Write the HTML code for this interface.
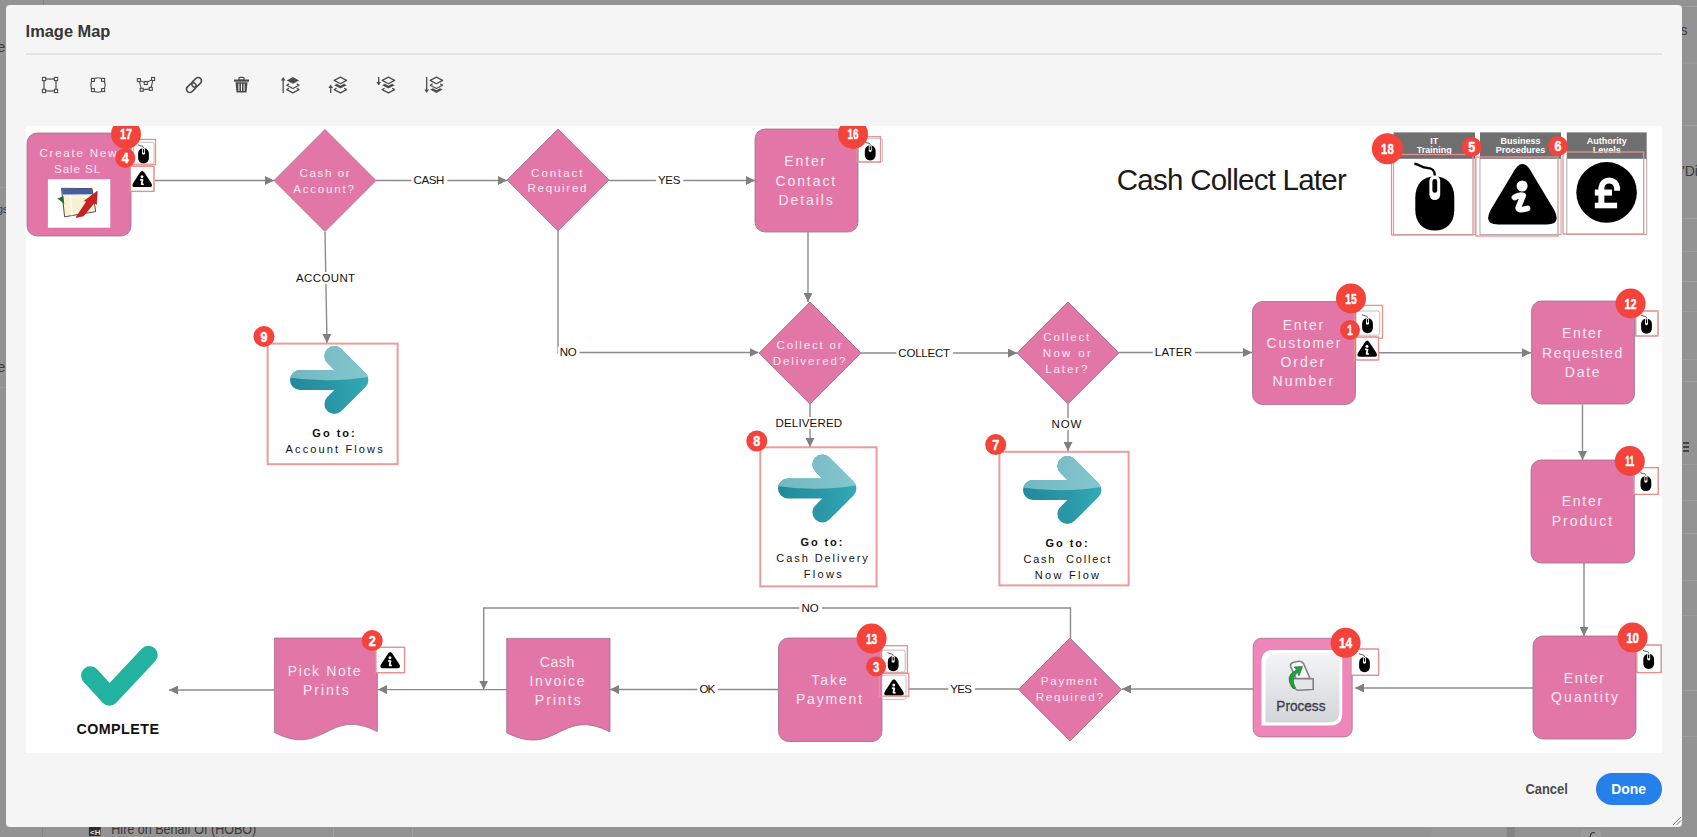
<!DOCTYPE html>
<html><head><meta charset="utf-8">
<style>
html,body{margin:0;padding:0;width:1697px;height:837px;overflow:hidden;background:#939393;font-family:"Liberation Sans",sans-serif;}
#modal{position:absolute;left:6px;top:5px;width:1676px;height:821.8px;background:#f5f5f5;border-radius:4px;}
svg{position:absolute;left:0;top:0;}
.lbl{font-size:11.5px;fill:#111;text-anchor:middle;}
.nt{font-size:14px;fill:#fde8f2;text-anchor:middle;}
.nd{font-size:11.6px;fill:#fde8f2;text-anchor:middle;}
.bd{fill:#fff;font-weight:bold;text-anchor:middle;}
.gb{font-size:11px;font-weight:bold;fill:#111;text-anchor:middle;}
.gt{font-size:11px;fill:#111;text-anchor:middle;}
.cmp{font-size:14.3px;font-weight:bold;fill:#111;text-anchor:middle;}
.ttl{font-size:29.5px;fill:#1a1a1a;text-anchor:middle;}
.lg{font-size:9px;font-weight:bold;fill:#fff;text-anchor:middle;}
</style></head>
<body>
<svg width="1697" height="837" style="position:absolute;left:0;top:0">
<rect x="1431.5" y="826" width="75" height="11" fill="#989898"/>
<rect x="1506.8" y="826" width="7.8" height="11" fill="#858585"/>
<rect x="1580" y="829" width="22" height="10" rx="3" fill="#9a9a9a" stroke="#8a8a8a" stroke-width="0.5"/>
<path d="M1590,837 Q1591,831 1595,833" fill="none" stroke="#333" stroke-width="1.2"/>
<rect x="42" y="826" width="1" height="11" fill="#858585"/>
<rect x="333" y="826" width="1" height="11" fill="#a0a0a0"/>
<rect x="412" y="826" width="1" height="11" fill="#a0a0a0"/>
<rect x="88.9" y="826" width="11.8" height="10" fill="#2e2e2e"/>
<text x="90" y="834.5" font-size="8" font-weight="bold" fill="#ddd">&lt;H</text>
<text x="111.3" y="834" font-size="14.5" fill="#383838" textLength="145" lengthAdjust="spacingAndGlyphs">Hire on Behalf Of (HOBO)</text>
<text x="-2.5" y="52" font-size="14" fill="#3c3c3c">e</text>
<text x="-3" y="213" font-size="11" fill="#3c3c3c">gs</text>
<text x="-2.5" y="371.5" font-size="14" fill="#3c3c3c">e</text>
<rect x="0" y="187" width="6" height="1" fill="#9c9c9c"/>
<rect x="0" y="387" width="6" height="1" fill="#9c9c9c"/>
<rect x="43" y="0" width="1" height="5" fill="#858585"/>
<g fill="#9e9e9e">
<rect x="1682" y="6" width="15" height="1"/><rect x="1682" y="62.5" width="15" height="1"/><rect x="1682" y="125" width="15" height="1"/>
<rect x="1682" y="218" width="15" height="1"/><rect x="1682" y="251" width="15" height="1"/><rect x="1682" y="281" width="15" height="1"/>
<rect x="1682" y="311" width="15" height="1"/><rect x="1682" y="359" width="15" height="1"/><rect x="1682" y="381" width="15" height="1"/>
<rect x="1682" y="464" width="15" height="1"/><rect x="1682" y="500" width="15" height="1"/><rect x="1682" y="533" width="15" height="1"/>
<rect x="1682" y="580" width="15" height="1"/><rect x="1682" y="615" width="15" height="1"/><rect x="1682" y="690" width="15" height="1"/><rect x="1682" y="736" width="15" height="1"/>
</g>
<text x="1680.5" y="35" font-size="14" fill="#3c3c3c">s</text>
<text x="1682" y="176" font-size="14" fill="#3c3c3c">'Di</text>
<path d="M1683,443 H1689 M1683,447 H1689 M1683,451 H1689" stroke="#2a2a2a" stroke-width="1.5"/>
</svg>
<div id="modal"></div>
<svg width="1697" height="837" viewBox="0 0 1697 837" font-family="Liberation Sans, sans-serif">
<defs>
<marker id="ah" viewBox="0 0 9 9" refX="9" refY="4.5" markerWidth="9" markerHeight="9" markerUnits="userSpaceOnUse" orient="auto">
  <path d="M0,0 L9,4.5 L0,9 z" fill="#7f7f7f"/>
</marker>
<clipPath id="cv"><rect x="26" y="126" width="1636" height="627"/></clipPath>
<linearGradient id="pg" x1="0" y1="0" x2="0" y2="1"><stop offset="0" stop-color="#f3f4f6"/><stop offset="1" stop-color="#d3d5d8"/></linearGradient>
<symbol id="mouse" overflow="visible">
  <path d="M-6.5,-1 C-6.5,-5.6 -3.8,-8 0,-8 C3.8,-8 6.5,-5.6 6.5,-1 V3.2 C6.5,7.4 3.8,10 0,10 C-3.8,10 -6.5,7.4 -6.5,3.2 Z" fill="#000"/>
  <rect x="-1.8" y="-8.4" width="3.6" height="8.2" rx="1.8" fill="#fff"/>
  <rect x="-0.8" y="-7.2" width="1.6" height="4.6" rx="0.8" fill="#000"/>
  <path d="M0,-8.4 C0,-10.3 -1,-10.8 -2.6,-10.9 C-4.6,-11 -5,-12.1 -6.8,-12.3" fill="none" stroke="#000" stroke-width="0.8"/>
</symbol>
<symbol id="info" overflow="visible">
  <path d="M-3,-5.2 Q0,-10.4 3,-5.2 L9.4,4.2 Q11.6,8 7.2,8 H-7.2 Q-11.6,8 -9.4,4.2 Z" fill="#000"/>
  <circle cx="-0.2" cy="-2.2" r="1.5" fill="#fff"/>
  <path d="M-1.5,0.9 L0.3,1.1 L-0.6,5.2 L0.9,5.3" fill="none" stroke="#fff" stroke-width="1.8" stroke-linecap="round" stroke-linejoin="round"/>
</symbol>
<linearGradient id="ag" gradientUnits="userSpaceOnUse" x1="0" y1="0" x2="78" y2="0"><stop offset="0" stop-color="#22899a"/><stop offset="0.6" stop-color="#2a99a7"/><stop offset="1" stop-color="#34a9b6"/></linearGradient>
<linearGradient id="agl" gradientUnits="userSpaceOnUse" x1="0" y1="0" x2="78" y2="0"><stop offset="0" stop-color="#73b7c1"/><stop offset="1" stop-color="#84c6ce"/></linearGradient>
<symbol id="garrow" overflow="visible">
  <path d="M10,34 H68.4 M44.4,10 L68.4,34 L44.4,58" fill="none" stroke="url(#ag)" stroke-width="20" stroke-linecap="round" stroke-linejoin="round"/>
  <clipPath id="gtop"><path d="M-5,-5 H85 V30 Q39,38 -5,31 Z"/></clipPath>
  <path d="M10,34 H68.4 M44.4,10 L68.4,34 L44.4,58" fill="none" stroke="url(#agl)" stroke-width="20" stroke-linecap="round" stroke-linejoin="round" clip-path="url(#gtop)"/>
</symbol>
</defs>
<text x="68" y="36.8" textLength="84.8" lengthAdjust="spacingAndGlyphs" font-size="17" font-weight="bold" fill="#363636" text-anchor="middle">Image Map</text>
<rect x="26" y="53" width="1636" height="2" fill="#e3e3e3"/>
<g transform="translate(50,85)"><rect x="-6" y="-6" width="12" height="12" fill="none" stroke="#4b4b4b" stroke-width="1.2"/><rect x="-7.60" y="-7.60" width="3.2" height="3.2" fill="#f5f5f5" stroke="#4b4b4b" stroke-width="1.1"/><rect x="-7.60" y="4.40" width="3.2" height="3.2" fill="#f5f5f5" stroke="#4b4b4b" stroke-width="1.1"/><rect x="4.40" y="-7.60" width="3.2" height="3.2" fill="#f5f5f5" stroke="#4b4b4b" stroke-width="1.1"/><rect x="4.40" y="4.40" width="3.2" height="3.2" fill="#f5f5f5" stroke="#4b4b4b" stroke-width="1.1"/></g>
<g transform="translate(98,85)"><circle r="7.2" fill="none" stroke="#4b4b4b" stroke-width="1.1"/><rect x="-6.60" y="-6.60" width="3" height="3" fill="#f5f5f5" stroke="#4b4b4b" stroke-width="1.1"/><rect x="-6.60" y="3.60" width="3" height="3" fill="#f5f5f5" stroke="#4b4b4b" stroke-width="1.1"/><rect x="3.60" y="-6.60" width="3" height="3" fill="#f5f5f5" stroke="#4b4b4b" stroke-width="1.1"/><rect x="3.60" y="3.60" width="3" height="3" fill="#f5f5f5" stroke="#4b4b4b" stroke-width="1.1"/></g>
<g transform="translate(146,85)"><path d="M-7.1,-4.9 L-4.3,4.8 L4.8,3.9 L7.1,-6 L-0.2,-2 Z" fill="none" stroke="#4b4b4b" stroke-width="1.1"/><rect x="-8.60" y="-6.40" width="3" height="3" fill="#f5f5f5" stroke="#4b4b4b" stroke-width="1.1"/><rect x="-5.80" y="3.30" width="3" height="3" fill="#f5f5f5" stroke="#4b4b4b" stroke-width="1.1"/><rect x="3.30" y="2.40" width="3" height="3" fill="#f5f5f5" stroke="#4b4b4b" stroke-width="1.1"/><rect x="5.60" y="-7.50" width="3" height="3" fill="#f5f5f5" stroke="#4b4b4b" stroke-width="1.1"/><rect x="-1.70" y="-3.50" width="3" height="3" fill="#f5f5f5" stroke="#4b4b4b" stroke-width="1.1"/></g>
<g transform="translate(194,85) rotate(-45)"><rect x="-9.2" y="-3.3" width="11" height="6.6" rx="3.3" fill="none" stroke="#4b4b4b" stroke-width="1.7"/><rect x="-1.8" y="-3.3" width="11" height="6.6" rx="3.3" fill="none" stroke="#4b4b4b" stroke-width="1.7"/></g>
<g transform="translate(241.5,85)"><rect x="-7.5" y="-5.5" width="15" height="2.2" fill="#4b4b4b"/><rect x="-2.6" y="-7.6" width="5.2" height="2.6" rx="1" fill="none" stroke="#4b4b4b" stroke-width="1.2"/><path d="M-6,-2.8 L-5,7.6 H5 L6,-2.8 Z" fill="#4b4b4b"/><path d="M-2.6,-1.3 V6 M0,-1.3 V6 M2.6,-1.3 V6" stroke="#f5f5f5" stroke-width="1"/></g>
<g transform="translate(290.5,85)"><g transform="translate(2.4,0)"><path d="M0,-7.8999999999999995 L6.2,-4.6 L0,-1.2999999999999998 L-6.2,-4.6 Z" fill="#4b4b4b"/><path d="M-3.8,-1.1 L-6.2,0.2 L0,3.5 L6.2,0.2 L3.8,-1.1" fill="none" stroke="#4b4b4b" stroke-width="1.2" stroke-linejoin="round"/><path d="M-3.8,3.3 L-6.2,4.6 L0,7.8999999999999995 L6.2,4.6 L3.8,3.3" fill="none" stroke="#4b4b4b" stroke-width="1.2" stroke-linejoin="round"/></g><path d="M-7.3,8 V-5.5" stroke="#4b4b4b" stroke-width="1.3"/><path d="M-9.6,-4.5 L-7.3,-8 L-5,-4.5 Z" fill="#4b4b4b"/></g>
<g transform="translate(338,85)"><g transform="translate(2.4,0)"><path d="M0,-7.8999999999999995 L6.2,-4.6 L0,-1.2999999999999998 L-6.2,-4.6 Z" fill="none" stroke="#4b4b4b" stroke-width="1.2" stroke-linejoin="round"/><path d="M-6.2,0.2 L0,3.5 L6.2,0.2 L3.6,-1.2 L0,0.8 L-3.6,-1.2 Z" fill="#4b4b4b"/><path d="M-3.8,3.3 L-6.2,4.6 L0,7.8999999999999995 L6.2,4.6 L3.8,3.3" fill="none" stroke="#4b4b4b" stroke-width="1.2" stroke-linejoin="round"/></g><path d="M-7.3,8 V2" stroke="#4b4b4b" stroke-width="1.3"/><path d="M-9.6,3 L-7.3,-0.5 L-5,3 Z" fill="#4b4b4b"/></g>
<g transform="translate(386,85)"><g transform="translate(2.4,0)"><path d="M0,-7.8999999999999995 L6.2,-4.6 L0,-1.2999999999999998 L-6.2,-4.6 Z" fill="none" stroke="#4b4b4b" stroke-width="1.2" stroke-linejoin="round"/><path d="M-6.2,0.2 L0,3.5 L6.2,0.2 L3.6,-1.2 L0,0.8 L-3.6,-1.2 Z" fill="#4b4b4b"/><path d="M-3.8,3.3 L-6.2,4.6 L0,7.8999999999999995 L6.2,4.6 L3.8,3.3" fill="none" stroke="#4b4b4b" stroke-width="1.2" stroke-linejoin="round"/></g><path d="M-7.3,-8 V-2" stroke="#4b4b4b" stroke-width="1.3"/><path d="M-9.6,-3 L-7.3,0.5 L-5,-3 Z" fill="#4b4b4b"/></g>
<g transform="translate(434,85)"><g transform="translate(2.4,0)"><path d="M0,-7.8999999999999995 L6.2,-4.6 L0,-1.2999999999999998 L-6.2,-4.6 Z" fill="none" stroke="#4b4b4b" stroke-width="1.2" stroke-linejoin="round"/><path d="M-3.8,-1.1 L-6.2,0.2 L0,3.5 L6.2,0.2 L3.8,-1.1" fill="none" stroke="#4b4b4b" stroke-width="1.2" stroke-linejoin="round"/><path d="M-6.2,4.6 L0,7.8999999999999995 L6.2,4.6 L3.6,3.1999999999999997 L0,5.199999999999999 L-3.6,3.1999999999999997 Z" fill="#4b4b4b"/></g><path d="M-7.3,-8 V5.5" stroke="#4b4b4b" stroke-width="1.3"/><path d="M-9.6,4.5 L-7.3,8 L-5,4.5 Z" fill="#4b4b4b"/></g>
<rect x="26" y="126" width="1636" height="627" fill="#ffffff"/>
<path d="M155,180.5 H274" fill="none" stroke="#8b8b8b" stroke-width="1.4" marker-end="url(#ah)"/>
<path d="M376,180.5 H507" fill="none" stroke="#8b8b8b" stroke-width="1.4" marker-end="url(#ah)"/>
<path d="M609,180.5 H755" fill="none" stroke="#8b8b8b" stroke-width="1.4" marker-end="url(#ah)"/>
<path d="M325,232 L327,343" fill="none" stroke="#8b8b8b" stroke-width="1.4" marker-end="url(#ah)"/>
<path d="M558,231 V352.5 H758.5" fill="none" stroke="#8b8b8b" stroke-width="1.4" marker-end="url(#ah)"/>
<path d="M808,232 V302" fill="none" stroke="#8b8b8b" stroke-width="1.4" marker-end="url(#ah)"/>
<path d="M861,353 H1017" fill="none" stroke="#8b8b8b" stroke-width="1.4" marker-end="url(#ah)"/>
<path d="M1119,352.5 H1252" fill="none" stroke="#8b8b8b" stroke-width="1.4" marker-end="url(#ah)"/>
<path d="M810,404 V447" fill="none" stroke="#8b8b8b" stroke-width="1.4" marker-end="url(#ah)"/>
<path d="M1068,404 V451" fill="none" stroke="#8b8b8b" stroke-width="1.4" marker-end="url(#ah)"/>
<path d="M1378,352.8 H1531" fill="none" stroke="#8b8b8b" stroke-width="1.4" marker-end="url(#ah)"/>
<path d="M1582.5,404.5 V460" fill="none" stroke="#8b8b8b" stroke-width="1.4" marker-end="url(#ah)"/>
<path d="M1584,563 V636" fill="none" stroke="#8b8b8b" stroke-width="1.4" marker-end="url(#ah)"/>
<path d="M1533,688 H1355" fill="none" stroke="#8b8b8b" stroke-width="1.4" marker-end="url(#ah)"/>
<path d="M1253,689 H1122" fill="none" stroke="#8b8b8b" stroke-width="1.4" marker-end="url(#ah)"/>
<path d="M1070.5,638 V608 H483.7 V689.6" fill="none" stroke="#8b8b8b" stroke-width="1.4" marker-end="url(#ah)"/>
<path d="M1019,689 H908" fill="none" stroke="#8b8b8b" stroke-width="1.4"/>
<path d="M778,689.5 H610" fill="none" stroke="#8b8b8b" stroke-width="1.4" marker-end="url(#ah)"/>
<path d="M507,689.6 H378" fill="none" stroke="#8b8b8b" stroke-width="1.4" marker-end="url(#ah)"/>
<path d="M274,690 H169" fill="none" stroke="#8b8b8b" stroke-width="1.4" marker-end="url(#ah)"/>
<rect x="411.5" y="174.4" width="35.8" height="12" fill="#fff"/>
<text x="428.9" y="183.8" textLength="30.8" lengthAdjust="spacing" class="lbl">CASH</text>
<rect x="656.1" y="174.4" width="27.2" height="12" fill="#fff"/>
<text x="669.2" y="184.2" textLength="22.2" lengthAdjust="spacing" class="lbl">YES</text>
<rect x="294.1" y="272.0" width="64.0" height="12" fill="#fff"/>
<text x="325.6" y="282" textLength="59.0" lengthAdjust="spacing" class="lbl">ACCOUNT</text>
<rect x="557.8" y="346.8" width="21.8" height="12" fill="#fff"/>
<text x="568.2" y="355.8" textLength="16.8" lengthAdjust="spacing" class="lbl">NO</text>
<rect x="896.4" y="347.0" width="56.7" height="12" fill="#fff"/>
<text x="924.2" y="357.1" textLength="51.7" lengthAdjust="spacing" class="lbl">COLLECT</text>
<rect x="1152.7" y="346.5" width="42.4" height="12" fill="#fff"/>
<text x="1173.4" y="356" textLength="37.4" lengthAdjust="spacing" class="lbl">LATER</text>
<rect x="773.5" y="417.0" width="71.5" height="12" fill="#fff"/>
<text x="808.8" y="426.8" textLength="66.5" lengthAdjust="spacing" class="lbl">DELIVERED</text>
<rect x="1049.5" y="418.0" width="34.9" height="12" fill="#fff"/>
<text x="1066.5" y="427.9" textLength="29.9" lengthAdjust="spacing" class="lbl">NOW</text>
<rect x="799.4" y="602.2" width="22.4" height="12" fill="#fff"/>
<text x="810.1" y="611.8" textLength="17.4" lengthAdjust="spacing" class="lbl">NO</text>
<rect x="948.3" y="683.0" width="26.6" height="12" fill="#fff"/>
<text x="961.1" y="692.7" textLength="21.6" lengthAdjust="spacing" class="lbl">YES</text>
<rect x="697.5" y="683.6" width="20.6" height="12" fill="#fff"/>
<text x="707.3" y="692.7" textLength="15.6" lengthAdjust="spacing" class="lbl">OK</text>
<rect x="27" y="133" width="104" height="103" rx="10" fill="#e277a7" stroke="#a07088" stroke-width="0.8"/>
<rect x="755" y="129" width="103" height="103" rx="10" fill="#e277a7" stroke="#a07088" stroke-width="0.8"/>
<rect x="1252.5" y="301.5" width="103" height="103" rx="10" fill="#e277a7" stroke="#a07088" stroke-width="0.8"/>
<rect x="1531.5" y="301" width="103" height="103" rx="10" fill="#e277a7" stroke="#a07088" stroke-width="0.8"/>
<rect x="1531" y="460" width="103.5" height="103" rx="10" fill="#e277a7" stroke="#a07088" stroke-width="0.8"/>
<rect x="1533" y="636" width="103" height="103" rx="10" fill="#e277a7" stroke="#a07088" stroke-width="0.8"/>
<rect x="778.5" y="638" width="103.5" height="103.5" rx="10" fill="#e277a7" stroke="#a07088" stroke-width="0.8"/>
<path d="M274,180.5 L325,129.5 L376,180.5 L325,231.5 Z" fill="#e277a7" stroke="#a07088" stroke-width="0.8"/>
<path d="M507,180 L558,129 L609,180 L558,231 Z" fill="#e277a7" stroke="#a07088" stroke-width="0.8"/>
<path d="M759,353 L810,302 L861,353 L810,404 Z" fill="#e277a7" stroke="#a07088" stroke-width="0.8"/>
<path d="M1017,353 L1068,302 L1119,353 L1068,404 Z" fill="#e277a7" stroke="#a07088" stroke-width="0.8"/>
<path d="M1018.5,689.5 L1070,638.0 L1121.5,689.5 L1070,741.0 Z" fill="#e277a7" stroke="#a07088" stroke-width="0.8"/>
<path d="M274.4,638.1 H377.4 V731.6 C328.0,706.1 324.9,758.1 274.4,732.5 Z" fill="#e277a7" stroke="#a07088" stroke-width="0.8"/>
<path d="M506.7,638.4 H610 V731.9 C560.4,706.4 557.3,758.4 506.7,732.8 Z" fill="#e277a7" stroke="#a07088" stroke-width="0.8"/>
<rect x="1253.2" y="638.3" width="99" height="98.6" rx="8" fill="#ee86b9" stroke="#a07088" stroke-width="0.8"/>
<path d="M1273.5,650 H1342.3 V713.5 Q1342.3,725.5 1330.3,725.5 H1261.5 V662 Q1261.5,650 1273.5,650 Z" fill="#ffffff"/>
<path d="M1277,653.5 H1339.5 V711.5 Q1339.5,722.5 1328.5,722.5 H1265.5 V665 Q1265.5,653.5 1277,653.5 Z" fill="url(#pg)"/>
<path d="M1290.6,666.5 Q1290,663.5 1293,662.5 L1298.7,661.3 Q1302,661 1303.5,663.5 L1310,678.5 H1296 Z" fill="#fafafa" stroke="#808080" stroke-width="1.6" stroke-linejoin="round"/>
<path d="M1291.5,678.7 H1313.2 V689.5 L1297.6,690.3 L1291.5,686.2 Z" fill="#e6e6e6" stroke="#808080" stroke-width="1.6" stroke-linejoin="round"/>
<path d="M1293,688.5 Q1283.5,676 1296.5,670 L1294,667 L1302.5,666.5 L1299,676 L1297.8,672.8 Q1290,677.5 1295.5,688 Z" fill="#22a040" stroke="#126a26" stroke-width="0.6"/>
<text x="1300.9" y="711" textLength="49.1" lengthAdjust="spacingAndGlyphs" font-size="15.5" fill="#3d3d4d" stroke="#3d3d4d" stroke-width="0.35" text-anchor="middle">Process</text>
<rect x="47.9" y="179.2" width="62.4" height="48.5" fill="#fff"/>
<path d="M61.5,188.3 L92,188.6 L95.7,211.6 L64.6,216.8 Z" fill="#fbf1d0" stroke="#3a3a3a" stroke-width="0.9"/>
<path d="M62,188.8 L91.8,189 L92.6,194.2 L62.6,194.4 Z" fill="#3e5fae"/>
<path d="M70.5,195 L72,215.5 M71,197.5 L93,197" stroke="#ffffff" stroke-width="1.2" fill="none"/>
<path d="M57.5,198.5 L63.4,196 L64.2,204 Z" fill="#1d6b35"/>
<path d="M76,217.5 L86.5,201.5 L84.5,200.8 L97.2,191.2 L96.6,204.5 L94.3,202.8 L83.5,216 Z" fill="#cf1f1f" stroke="#6a1010" stroke-width="0.5"/>
<text x="77.9" y="157.1" textLength="77.0" lengthAdjust="spacing" class="nd" >Create New</text>
<text x="77.1" y="173.1" textLength="46.0" lengthAdjust="spacing" class="nd" >Sale SL</text>
<text x="324.6" y="177.1" textLength="50.1" lengthAdjust="spacing" class="nd" >Cash or</text>
<text x="323.6" y="193" textLength="60.5" lengthAdjust="spacing" class="nd" >Account?</text>
<text x="556.8" y="176.9" textLength="51.4" lengthAdjust="spacing" class="nd" >Contact</text>
<text x="557.0" y="192.4" textLength="59.1" lengthAdjust="spacing" class="nd" >Required</text>
<text x="809.1" y="348.7" textLength="65.2" lengthAdjust="spacing" class="nd" >Collect or</text>
<text x="809.0" y="365.2" textLength="72.7" lengthAdjust="spacing" class="nd" >Delivered?</text>
<text x="1066.3" y="340.7" textLength="45.9" lengthAdjust="spacing" class="nd" >Collect</text>
<text x="1066.8" y="356.8" textLength="48.1" lengthAdjust="spacing" class="nd" >Now or</text>
<text x="1066.3" y="373.2" textLength="42.1" lengthAdjust="spacing" class="nd" >Later?</text>
<text x="1068.9" y="684.7" textLength="56.3" lengthAdjust="spacing" class="nd" >Payment</text>
<text x="1069.3" y="700.8" textLength="67.3" lengthAdjust="spacing" class="nd" >Required?</text>
<text x="804.8" y="166" textLength="40.9" lengthAdjust="spacing" class="nt" >Enter</text>
<text x="805.3" y="185.5" textLength="59.8" lengthAdjust="spacing" class="nt" >Contact</text>
<text x="805.6" y="204.7" textLength="54.3" lengthAdjust="spacing" class="nt" >Details</text>
<text x="1303.0" y="329.5" textLength="40.4" lengthAdjust="spacing" class="nt" >Enter</text>
<text x="1303.5" y="348.3" textLength="73.8" lengthAdjust="spacing" class="nt" >Customer</text>
<text x="1302.3" y="367" textLength="43.7" lengthAdjust="spacing" class="nt" >Order</text>
<text x="1302.8" y="385.8" textLength="60.7" lengthAdjust="spacing" class="nt" >Number</text>
<text x="1582.0" y="337.9" textLength="39.9" lengthAdjust="spacing" class="nt" >Enter</text>
<text x="1582.1" y="357.6" textLength="80.3" lengthAdjust="spacing" class="nt" >Requested</text>
<text x="1582.2" y="376.7" textLength="34.8" lengthAdjust="spacing" class="nt" >Date</text>
<text x="1581.9" y="506.2" textLength="40.3" lengthAdjust="spacing" class="nt" >Enter</text>
<text x="1581.9" y="525.9" textLength="60.3" lengthAdjust="spacing" class="nt" >Product</text>
<text x="1583.8" y="683" textLength="40.1" lengthAdjust="spacing" class="nt" >Enter</text>
<text x="1584.5" y="702" textLength="67.2" lengthAdjust="spacing" class="nt" >Quantity</text>
<text x="829.0" y="684.8" textLength="35.4" lengthAdjust="spacing" class="nt" >Take</text>
<text x="829.0" y="703.8" textLength="66.2" lengthAdjust="spacing" class="nt" >Payment</text>
<text x="557.1" y="667.2" textLength="34.6" lengthAdjust="spacing" class="nt" >Cash</text>
<text x="557.0" y="686" textLength="55.1" lengthAdjust="spacing" class="nt" >Invoice</text>
<text x="557.8" y="704.8" textLength="45.9" lengthAdjust="spacing" class="nt" >Prints</text>
<text x="324.2" y="675.9" textLength="72.9" lengthAdjust="spacing" class="nt" >Pick Note</text>
<text x="325.8" y="695" textLength="45.7" lengthAdjust="spacing" class="nt" >Prints</text>
<rect x="267.6" y="343.6" width="130.0" height="120.6" fill="none" stroke="#eb9c9c" stroke-width="2"/>
<use href="#garrow" transform="translate(290,346)"/>
<rect x="760.3" y="447.3" width="116.3" height="139.1" fill="none" stroke="#eb9c9c" stroke-width="2"/>
<use href="#garrow" transform="translate(778,454.5)"/>
<rect x="999.4" y="451.8" width="129.2" height="133.6" fill="none" stroke="#eb9c9c" stroke-width="2"/>
<use href="#garrow" transform="translate(1023,456)"/>
<text x="333.5" y="436.7" textLength="42.3" lengthAdjust="spacing" class="gb" >Go to:</text>
<text x="334.1" y="452.6" textLength="97.1" lengthAdjust="spacing" class="gt" >Account Flows</text>
<text x="821.4" y="545.7" textLength="42.0" lengthAdjust="spacing" class="gb" >Go to:</text>
<text x="822.1" y="561.8" textLength="91.5" lengthAdjust="spacing" class="gt" >Cash Delivery</text>
<text x="822.7" y="577.7" textLength="38.1" lengthAdjust="spacing" class="gt" >Flows</text>
<text x="1066.6" y="547" textLength="42.3" lengthAdjust="spacing" class="gb" >Go to:</text>
<text x="1066.9" y="562.9" textLength="87.0" lengthAdjust="spacing" class="gt" >Cash&#160; Collect</text>
<text x="1066.9" y="578.8" textLength="64.3" lengthAdjust="spacing" class="gt" >Now Flow</text>
<path d="M90.3,675.5 L109.5,696.5 L148.5,655" fill="none" stroke="#22b3a0" stroke-width="18.5" stroke-linecap="round" stroke-linejoin="round"/>
<text x="117.7" y="734.2" textLength="82.6" lengthAdjust="spacing" class="cmp" >COMPLETE</text>
<text x="1231.8" y="190.3" textLength="230.0" lengthAdjust="spacing" class="ttl" >Cash Collect Later</text>
<rect x="1393.6" y="158.5" width="81.4" height="76" fill="#fff" stroke="#a9a9a9" stroke-width="1"/>
<rect x="1393.6" y="132.4" width="81.4" height="26.1" fill="#6f6f6f"/>
<text x="1434.3" y="143.5" class="lg">IT</text>
<text x="1434.3" y="153.3" class="lg">Training</text>
<use href="#mouse" transform="translate(1434.8,200.6) scale(3)"/>
<rect x="1391.5" y="154.5" width="81.5" height="80.5" fill="none" stroke="#e98f8f" stroke-width="1.3"/>
<rect x="1480" y="158.5" width="81.0" height="76" fill="#fff" stroke="#a9a9a9" stroke-width="1"/>
<rect x="1480" y="132.4" width="81.0" height="26.1" fill="#6f6f6f"/>
<text x="1520.5" y="143.5" class="lg">Business</text>
<text x="1520.5" y="153.3" class="lg">Procedures</text>
<path d="M-3,-5.2 Q0,-10.4 3,-5.2 L9.4,4.2 Q11.6,8 7.2,8 H-7.2 Q-11.6,8 -9.4,4.2 Z" fill="#000" transform="translate(1522.4,193.9) scale(3.386,3.836)"/><circle cx="1522.1" cy="186" r="5.5" fill="#fff"/><path d="M1514.5,197.5 Q1519,194.5 1523.2,195.5 L1518.3,207.5 Q1517.5,211 1527.5,208.5" fill="none" stroke="#fff" stroke-width="5.8" stroke-linecap="round" stroke-linejoin="round"/>
<rect x="1475.8" y="157" width="82.2" height="79.0" fill="none" stroke="#e98f8f" stroke-width="1.3"/>
<rect x="1566.8" y="158.5" width="79.9" height="76" fill="#fff" stroke="#a9a9a9" stroke-width="1"/>
<rect x="1566.8" y="132.4" width="79.9" height="26.1" fill="#6f6f6f"/>
<text x="1606.8" y="143.5" class="lg">Authority</text>
<text x="1606.8" y="153.3" class="lg">Levels</text>
<circle cx="1606.6" cy="192.4" r="30.3" fill="#000"/><path d="M1601.35,203 V187.7 A7.9,7.9 0 0 1 1617.1,187.7 V190.8" fill="none" stroke="#fff" stroke-width="6"/><rect x="1594.8" y="189.5" width="17.2" height="6.1" fill="#fff"/><rect x="1594.8" y="202.7" width="22.3" height="5.6" fill="#fff"/>
<rect x="1563" y="152" width="80.7" height="82.0" fill="none" stroke="#e98f8f" stroke-width="1.3"/>
<rect x="133.6" y="142.4" width="20.4" height="21.6" rx="2" fill="#fff" stroke="#a5a5a5" stroke-width="0.7"/>
<use href="#mouse" transform="translate(143.5,155.0) scale(0.83)"/>
<rect x="131.3" y="139.4" width="24.2" height="25.4" fill="none" stroke="#e98f8f" stroke-width="1.3"/>
<rect x="130.3" y="166.3" width="23.7" height="25.1" rx="2" fill="#fff" stroke="#a5a5a5" stroke-width="0.7"/>
<use href="#info" transform="translate(142.2,178.9) scale(0.97,1.02)"/>
<rect x="130.3" y="166.3" width="23.7" height="25.1" fill="none" stroke="#e98f8f" stroke-width="1.3"/>
<rect x="858.5" y="138.7" width="24.1" height="23.3" rx="2" fill="#fff" stroke="#a5a5a5" stroke-width="0.7"/>
<use href="#mouse" transform="translate(870.2,152.2) scale(0.83)"/>
<rect x="857" y="136.7" width="23.5" height="25.3" fill="none" stroke="#e98f8f" stroke-width="1.3"/>
<rect x="1356" y="311" width="23.7" height="24.2" rx="2" fill="#fff" stroke="#a5a5a5" stroke-width="0.7"/>
<use href="#mouse" transform="translate(1367.5,324.9) scale(0.83)"/>
<rect x="1354.6" y="305.4" width="27.9" height="32.8" fill="none" stroke="#e98f8f" stroke-width="1.3"/>
<rect x="1356" y="337" width="22.5" height="23.0" rx="2" fill="#fff" stroke="#a5a5a5" stroke-width="0.7"/>
<use href="#info" transform="translate(1367.2,348.5) scale(0.97,1.02)"/>
<rect x="1354.6" y="337" width="23.9" height="23.0" fill="none" stroke="#e98f8f" stroke-width="1.3"/>
<rect x="1635.7" y="311" width="22.3" height="25.0" rx="2" fill="#fff" stroke="#a5a5a5" stroke-width="0.7"/>
<use href="#mouse" transform="translate(1646.5,325.3) scale(0.83)"/>
<rect x="1635.7" y="311" width="22.3" height="25.0" fill="none" stroke="#e98f8f" stroke-width="1.3"/>
<rect x="1634" y="467.6" width="24.3" height="26.8" rx="2" fill="#fff" stroke="#a5a5a5" stroke-width="0.7"/>
<use href="#mouse" transform="translate(1645.9,482.8) scale(0.83)"/>
<rect x="1634" y="467.6" width="24.3" height="26.8" fill="none" stroke="#e98f8f" stroke-width="1.3"/>
<rect x="1636.7" y="645" width="24.5" height="27.6" rx="2" fill="#fff" stroke="#a5a5a5" stroke-width="0.7"/>
<use href="#mouse" transform="translate(1648.7,660.6) scale(0.83)"/>
<rect x="1636.7" y="645" width="24.5" height="27.6" fill="none" stroke="#e98f8f" stroke-width="1.3"/>
<rect x="1351" y="649" width="27.6" height="26.3" rx="2" fill="#fff" stroke="#a5a5a5" stroke-width="0.7"/>
<use href="#mouse" transform="translate(1364.5,663.9) scale(0.83)"/>
<rect x="1351" y="649" width="27.6" height="26.3" fill="none" stroke="#e98f8f" stroke-width="1.3"/>
<rect x="881.9" y="650.1" width="23.3" height="22.0" rx="2" fill="#fff" stroke="#a5a5a5" stroke-width="0.7"/>
<use href="#mouse" transform="translate(893.2,662.9) scale(0.83)"/>
<rect x="880.6" y="645.7" width="26.8" height="27.3" fill="none" stroke="#e98f8f" stroke-width="1.3"/>
<rect x="881.9" y="675.2" width="24.1" height="24.2" rx="2" fill="#fff" stroke="#a5a5a5" stroke-width="0.7"/>
<use href="#info" transform="translate(894.0,687.3) scale(0.97,1.02)"/>
<rect x="879.2" y="673.4" width="29.6" height="22.8" fill="none" stroke="#e98f8f" stroke-width="1.3"/>
<rect x="375.8" y="647.3" width="28.8" height="25.4" rx="2" fill="#fff" stroke="#a5a5a5" stroke-width="0.7"/>
<use href="#info" transform="translate(390.2,660.0) scale(0.97,1.02)"/>
<rect x="375.8" y="647.3" width="28.8" height="25.4" fill="none" stroke="#e98f8f" stroke-width="1.3"/>
<g clip-path="url(#cv)">
<circle cx="126" cy="134" r="15" fill="#f4433a"/>
<text x="126.0" y="139.3" class="bd" font-size="15.5" textLength="12" lengthAdjust="spacingAndGlyphs" stroke="#fff" stroke-width="0.45">17</text>
<circle cx="125.3" cy="158" r="10" fill="#f4433a"/>
<text x="125.3" y="163.3" class="bd" font-size="15.5" textLength="7" lengthAdjust="spacingAndGlyphs" stroke="#fff" stroke-width="0.45">4</text>
<circle cx="853" cy="134" r="15" fill="#f4433a"/>
<text x="853.0" y="139.3" class="bd" font-size="15.5" textLength="11" lengthAdjust="spacingAndGlyphs" stroke="#fff" stroke-width="0.45">16</text>
<circle cx="1387.4" cy="148.8" r="15.5" fill="#f4433a"/>
<text x="1387.4" y="154.1" class="bd" font-size="15.5" textLength="12.7" lengthAdjust="spacingAndGlyphs" stroke="#fff" stroke-width="0.45">18</text>
<circle cx="1471.7" cy="147" r="10" fill="#f4433a"/>
<text x="1471.7" y="152.3" class="bd" font-size="15.5" textLength="7" lengthAdjust="spacingAndGlyphs" stroke="#fff" stroke-width="0.45">5</text>
<circle cx="1558" cy="146" r="10" fill="#f4433a"/>
<text x="1558.0" y="151.3" class="bd" font-size="15.5" textLength="7" lengthAdjust="spacingAndGlyphs" stroke="#fff" stroke-width="0.45">6</text>
<circle cx="264" cy="336.4" r="10.5" fill="#f4433a"/>
<text x="264.0" y="341.7" class="bd" font-size="15.5" textLength="7" lengthAdjust="spacingAndGlyphs" stroke="#fff" stroke-width="0.45">9</text>
<circle cx="756.8" cy="441" r="10.5" fill="#f4433a"/>
<text x="756.8" y="446.3" class="bd" font-size="15.5" textLength="7" lengthAdjust="spacingAndGlyphs" stroke="#fff" stroke-width="0.45">8</text>
<circle cx="995.7" cy="444.6" r="10.5" fill="#f4433a"/>
<text x="995.7" y="449.9" class="bd" font-size="15.5" textLength="7" lengthAdjust="spacingAndGlyphs" stroke="#fff" stroke-width="0.45">7</text>
<circle cx="1351" cy="298.4" r="15" fill="#f4433a"/>
<text x="1351.0" y="303.7" class="bd" font-size="15.5" textLength="11.4" lengthAdjust="spacingAndGlyphs" stroke="#fff" stroke-width="0.45">15</text>
<circle cx="1350" cy="330" r="10" fill="#f4433a"/>
<text x="1350.0" y="335.3" class="bd" font-size="15.5" textLength="5.4" lengthAdjust="spacingAndGlyphs" stroke="#fff" stroke-width="0.45">1</text>
<circle cx="1630.6" cy="303.5" r="15" fill="#f4433a"/>
<text x="1630.6" y="308.8" class="bd" font-size="15.5" textLength="12.1" lengthAdjust="spacingAndGlyphs" stroke="#fff" stroke-width="0.45">12</text>
<circle cx="1629.8" cy="461" r="15" fill="#f4433a"/>
<text x="1629.8" y="466.3" class="bd" font-size="15.5" textLength="9" lengthAdjust="spacingAndGlyphs" stroke="#fff" stroke-width="0.45">11</text>
<circle cx="1632.6" cy="637.6" r="15" fill="#f4433a"/>
<text x="1632.6" y="642.9" class="bd" font-size="15.5" textLength="12.9" lengthAdjust="spacingAndGlyphs" stroke="#fff" stroke-width="0.45">10</text>
<circle cx="1345.6" cy="642.8" r="15" fill="#f4433a"/>
<text x="1345.6" y="648.1" class="bd" font-size="15.5" textLength="13.2" lengthAdjust="spacingAndGlyphs" stroke="#fff" stroke-width="0.45">14</text>
<circle cx="871.6" cy="638.5" r="15" fill="#f4433a"/>
<text x="871.6" y="643.8" class="bd" font-size="15.5" textLength="11.3" lengthAdjust="spacingAndGlyphs" stroke="#fff" stroke-width="0.45">13</text>
<circle cx="876.1" cy="666.5" r="10" fill="#f4433a"/>
<text x="876.1" y="671.8" class="bd" font-size="15.5" textLength="6.3" lengthAdjust="spacingAndGlyphs" stroke="#fff" stroke-width="0.45">3</text>
<circle cx="372.2" cy="640.6" r="10.5" fill="#f4433a"/>
<text x="372.2" y="645.9" class="bd" font-size="15.5" textLength="7" lengthAdjust="spacingAndGlyphs" stroke="#fff" stroke-width="0.45">2</text>
</g>
<text x="1546.6" y="793.9" textLength="42.3" lengthAdjust="spacingAndGlyphs" font-size="14.3" font-weight="bold" fill="#4b4b4b" text-anchor="middle">Cancel</text>
<rect x="1596" y="773" width="66" height="32" rx="16" fill="#2680eb"/>
<text x="1628.6" y="793.9" textLength="34.6" lengthAdjust="spacingAndGlyphs" font-size="14.3" font-weight="bold" fill="#ffffff" text-anchor="middle">Done</text>
<path d="M1673,825 L1681,817 M1676.5,825 L1681,820.5" stroke="#555" stroke-width="0.8"/>
</svg>
</body></html>
